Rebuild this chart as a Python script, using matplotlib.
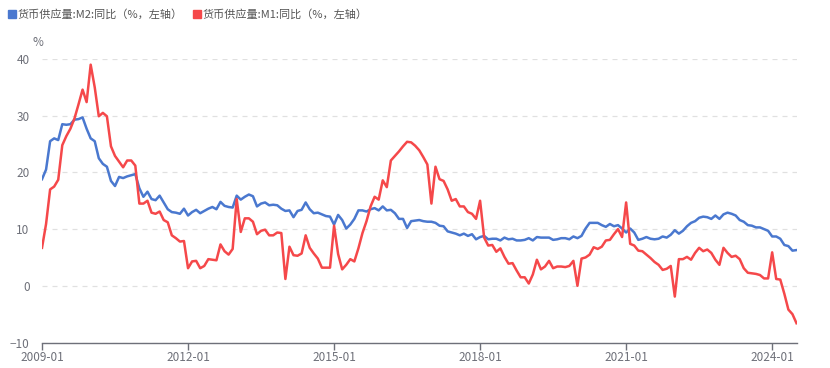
import matplotlib
matplotlib.use('Agg')
import matplotlib.pyplot as plt
from matplotlib.lines import Line2D

plt.rcParams['font.family'] = ['Noto Sans CJK SC', 'DejaVu Sans']

# monthly, 2009-01 .. 2024-07
m2 = [18.8, 20.5, 25.5, 26.0, 25.7, 28.5, 28.4, 28.5, 29.3, 29.4, 29.7, 27.7,
      26.0, 25.5, 22.5, 21.5, 21.0, 18.5, 17.6, 19.2, 19.0, 19.3, 19.5, 19.7,
      17.2, 15.7, 16.6, 15.3, 15.1, 15.9, 14.7, 13.5, 13.0, 12.9, 12.7, 13.6,
      12.4, 13.0, 13.4, 12.8, 13.2, 13.6, 13.9, 13.5, 14.8, 14.1, 13.9, 13.8,
      15.9, 15.2, 15.7, 16.1, 15.8, 14.0, 14.5, 14.7, 14.2, 14.3, 14.2, 13.6,
      13.2, 13.3, 12.1, 13.2, 13.4, 14.7, 13.5, 12.8, 12.9, 12.6, 12.3, 12.2,
      10.8, 12.5, 11.6, 10.1, 10.8, 11.8, 13.3, 13.3, 13.1, 13.5, 13.7, 13.3,
      14.0, 13.3, 13.4, 12.8, 11.8, 11.8, 10.2, 11.4, 11.5, 11.6, 11.4, 11.3,
      11.3, 11.1, 10.6, 10.5, 9.6, 9.4, 9.2, 8.9, 9.2, 8.8, 9.1, 8.2,
      8.6, 8.8, 8.2, 8.3, 8.3, 8.0, 8.5, 8.2, 8.3, 8.0, 8.0, 8.1,
      8.4, 8.0, 8.6, 8.5, 8.5, 8.5, 8.1, 8.2, 8.4, 8.4, 8.2, 8.7,
      8.4, 8.8, 10.1, 11.1, 11.1, 11.1, 10.7, 10.4, 10.9, 10.5, 10.7, 10.1,
      9.4, 10.1, 9.4, 8.1, 8.3, 8.6, 8.3, 8.2, 8.3, 8.7, 8.5, 9.0,
      9.8, 9.2, 9.7, 10.5, 11.1, 11.4, 12.0, 12.2, 12.1, 11.8, 12.4, 11.8,
      12.6, 12.9, 12.7, 12.4, 11.6, 11.3, 10.7, 10.6, 10.3, 10.3, 10.0, 9.7,
      8.7, 8.7, 8.3, 7.2, 7.0, 6.2, 6.3]

m1 = [6.7, 10.9, 17.0, 17.5, 18.7, 24.8, 26.4, 27.7, 29.5, 32.0, 34.6, 32.4,
      39.0, 35.0, 29.9, 30.5, 29.9, 24.6, 22.9, 21.9, 20.9, 22.1, 22.1, 21.2,
      14.5, 14.5, 15.0, 12.9, 12.7, 13.1, 11.6, 11.2, 8.9, 8.4, 7.8, 7.9,
      3.1, 4.3, 4.4, 3.1, 3.5, 4.7, 4.6, 4.5, 7.3, 6.1, 5.5, 6.5,
      15.3, 9.5, 11.9, 11.9, 11.3, 9.1, 9.7, 9.9, 8.9, 8.9, 9.4, 9.3,
      1.2, 6.9, 5.4, 5.3, 5.7, 8.9, 6.7, 5.7, 4.8, 3.2, 3.2, 3.2,
      10.6, 5.6, 2.9, 3.7, 4.7, 4.3, 6.6, 9.3, 11.4, 14.0, 15.7, 15.2,
      18.6, 17.4, 22.1, 22.9, 23.7, 24.6, 25.4, 25.3, 24.7, 23.9, 22.7, 21.4,
      14.5, 21.0, 18.8, 18.5, 17.0, 15.0, 15.3, 14.0, 14.0, 13.0, 12.7, 11.8,
      15.0, 8.5, 7.1, 7.2, 6.0, 6.6, 5.1, 3.9, 4.0, 2.7, 1.5, 1.5,
      0.4, 2.0, 4.6, 2.9, 3.4, 4.4, 3.1, 3.4, 3.4, 3.3, 3.5, 4.4,
      0.0, 4.8, 5.0, 5.5, 6.8, 6.5, 6.9, 8.0, 8.1, 9.1, 10.0, 8.6,
      14.7, 7.4, 7.1, 6.2, 6.1, 5.5, 4.9, 4.2, 3.7, 2.8, 3.0, 3.5,
      -1.9, 4.7, 4.7, 5.1, 4.6, 5.8, 6.7, 6.1, 6.4, 5.8, 4.6, 3.7,
      6.7, 5.8, 5.1, 5.3, 4.7, 3.1, 2.3, 2.2, 2.1, 1.9, 1.3, 1.3,
      5.9, 1.2, 1.1, -1.4, -4.2, -5.0, -6.6]

x_ticks = [0, 36, 72, 108, 144, 180]
x_labels = ['2009-01', '2012-01', '2015-01', '2018-01', '2021-01', '2024-01']
y_ticks = [-10, 0, 10, 20, 30, 40]

label_m2 = '货币供应量:M2:同比（%，左轴）'
label_m1 = '货币供应量:M1:同比（%，左轴）'
blue = '#4a78cf'
red = '#f5484a'
grey = '#6e7079'

fig = plt.figure(figsize=(8.3, 3.68), dpi=100)
ax = fig.add_axes([42 / 830, 25.5 / 368, 754.5 / 830, 283.5 / 368])

x = list(range(len(m2)))
ax.plot(x, m2, color=blue, lw=1.8, solid_joinstyle='round')
ax.plot(x, m1, color=red, lw=1.8, solid_joinstyle='round')

ax.set_xlim(0, len(m2) - 1)
ax.set_ylim(-10, 40)
ax.set_yticks(y_ticks)
ax.set_xticks(x_ticks)
ax.set_xticklabels(x_labels)
ax.grid(axis='y', color='#e0e0e0', linestyle=(0, (4, 4)), lw=0.9)
ax.set_axisbelow(True)
for s in ['top', 'right', 'left']:
    ax.spines[s].set_visible(False)
ax.spines['bottom'].set_color(grey)
ax.spines['bottom'].set_linewidth(1.0)
ax.tick_params(axis='x', colors=grey, labelcolor=grey, length=5, width=1.0,
               labelsize=8.5, pad=1)
ax.tick_params(axis='y', length=0, labelcolor=grey, labelsize=8.5, pad=9)
ax.text(-0.006, 1.035, '%', transform=ax.transAxes, ha='center', va='bottom',
        fontsize=8.5, color=grey)

handles = [Line2D([], [], ls='none', marker='s', ms=6, color=blue),
           Line2D([], [], ls='none', marker='s', ms=6, color=red)]
leg = fig.legend(handles, [label_m2, label_m1], loc='upper left',
                 bbox_to_anchor=(0.0, 1.0), ncol=2, frameon=False,
                 handlelength=0.6, handletextpad=0.2,
                 columnspacing=1.0, fontsize=8, borderaxespad=0.4)
for t in leg.get_texts():
    t.set_color('#555555')

plt.savefig('out.png', dpi=100)
